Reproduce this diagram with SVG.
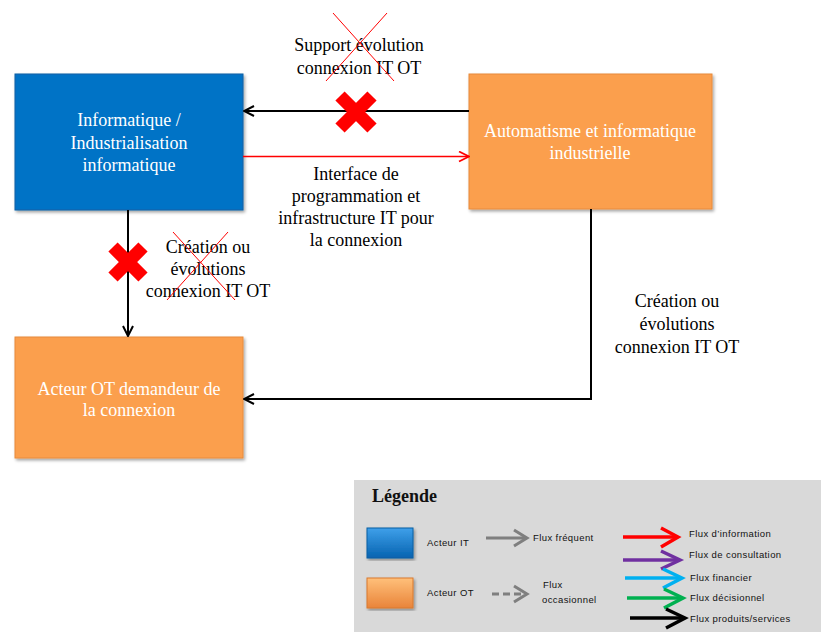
<svg xmlns="http://www.w3.org/2000/svg" width="821" height="632" viewBox="0 0 821 632">
<style>
.lbl{font-family:"Liberation Serif","Times New Roman",serif;font-size:18px;fill:#000;text-anchor:middle}
.nt{font-family:"Liberation Serif","Times New Roman",serif;font-size:18px;fill:#fff;text-anchor:middle}
.lg{font-family:"Liberation Sans",Arial,sans-serif;font-size:9.5px;fill:#111;letter-spacing:0.4px}
.blue{fill:#0673c6;stroke:#0a5ea3;stroke-width:1}
.orange{fill:#fb9f4e;stroke:#e88a3a;stroke-width:1}
.bk{stroke:#000;stroke-width:2;fill:none}
.thin{stroke:#ff0000;stroke-width:1;fill:none}
.bigx{stroke:#ff0000;stroke-width:13;stroke-linecap:butt}
</style>
<defs>
<marker id="ar" viewBox="0 0 12 12" refX="11" refY="6" markerWidth="12" markerHeight="12" markerUnits="userSpaceOnUse" orient="auto">
<path d="M1,1 L11,6 L1,11" fill="none" stroke="#ff0000" stroke-width="1.8"/>
</marker>
<marker id="ad" viewBox="0 0 12 12" refX="11" refY="6" markerWidth="12" markerHeight="12" markerUnits="userSpaceOnUse" orient="auto">
<path d="M1,1 L11,6 L1,11" fill="none" stroke="#000" stroke-width="2"/>
</marker>
<filter id="sh" x="-5%" y="-5%" width="115%" height="115%">
<feDropShadow dx="1.5" dy="2" stdDeviation="1.5" flood-color="#000" flood-opacity="0.35"/>
</filter>
<linearGradient id="lgb" x1="0" y1="0" x2="0" y2="1"><stop offset="0" stop-color="#3fa0ea"/><stop offset="1" stop-color="#0663b0"/></linearGradient>
<linearGradient id="lgo" x1="0" y1="0" x2="0" y2="1"><stop offset="0" stop-color="#ffc07a"/><stop offset="1" stop-color="#e9843a"/></linearGradient>
</defs>
<rect width="821" height="632" fill="#fff"/>

<g id="node-it">
<rect x="15" y="74" width="228" height="136" class="blue" filter="url(#sh)"/>
<text class="nt" x="129" y="126">Informatique /</text>
<text class="nt" x="129" y="149">Industrialisation</text>
<text class="nt" x="129" y="171">informatique</text>
</g>

<g id="node-automatisme">
<rect x="469" y="74" width="243" height="135" class="orange" filter="url(#sh)"/>
<text class="nt" x="590" y="137">Automatisme et informatique</text>
<text class="nt" x="590" y="159">industrielle</text>
</g>

<g id="node-acteur-ot">
<rect x="15" y="337" width="228" height="121" class="orange" filter="url(#sh)"/>
<text class="nt" x="129" y="395">Acteur OT demandeur de</text>
<text class="nt" x="129" y="416">la connexion</text>
</g>

<g id="connectors">
<line x1="469" y1="111" x2="244" y2="111" class="bk" marker-end="url(#ad)"/>
<line x1="243" y1="156.5" x2="469" y2="156.5" stroke="#ff0000" stroke-width="1.5" marker-end="url(#ar)"/>
<line x1="128" y1="210" x2="128" y2="336" class="bk" marker-end="url(#ad)"/>
<polyline points="591,209 591,399 244,399" class="bk" marker-end="url(#ad)"/>
</g>

<g id="label-support">
<text class="lbl" x="359" y="51">Support évolution</text>
<text class="lbl" x="359" y="74">connexion IT OT</text>
<line x1="333" y1="13" x2="394" y2="81" class="thin"/>
<line x1="387" y1="13" x2="326" y2="81" class="thin"/>
<g class="bigx"><line x1="340" y1="96" x2="372" y2="128"/><line x1="372" y1="96" x2="340" y2="128"/></g>
</g>

<g id="label-interface">
<text class="lbl" x="356" y="180">Interface de</text>
<text class="lbl" x="356" y="202">programmation et</text>
<text class="lbl" x="356" y="224">infrastructure IT pour</text>
<text class="lbl" x="356" y="246">la connexion</text>
</g>

<g id="label-creation-left">
<text class="lbl" x="208" y="253">Création ou</text>
<text class="lbl" x="208" y="275">évolutions</text>
<text class="lbl" x="208" y="297">connexion IT OT</text>
<line x1="173" y1="232" x2="235" y2="300" class="thin"/>
<line x1="228" y1="232" x2="167" y2="300" class="thin"/>
<g class="bigx"><line x1="113" y1="247" x2="143" y2="277"/><line x1="143" y1="247" x2="113" y2="277"/></g>
</g>

<g id="label-creation-right">
<text class="lbl" x="677" y="307">Création ou</text>
<text class="lbl" x="677" y="330">évolutions</text>
<text class="lbl" x="677" y="353">connexion IT OT</text>
</g>

<g id="legend">
<rect x="354" y="480" width="467" height="152" fill="#d9d9d9"/>
<text x="372" y="502" font-family="Liberation Serif,serif" font-size="18" font-weight="bold" fill="#111">Légende</text>
<rect x="367" y="528" width="46" height="30" fill="url(#lgb)" stroke="#0a5ea3" filter="url(#sh)"/>
<rect x="367" y="578" width="46" height="30" fill="url(#lgo)" stroke="#d9782e" filter="url(#sh)"/>
<text class="lg" x="427" y="546">Acteur IT</text>
<text class="lg" x="427" y="596">Acteur OT</text>
<line x1="486" y1="538" x2="526" y2="538" stroke="#7f7f7f" stroke-width="3"/>
<path d="M514,530 L527,538 L514,546" fill="none" stroke="#7f7f7f" stroke-width="3"/>
<text class="lg" x="533" y="541">Flux fréquent</text>
<line x1="492" y1="594" x2="526" y2="594" stroke="#7f7f7f" stroke-width="3" stroke-dasharray="7,4"/>
<path d="M514,586 L527,594 L514,602" fill="none" stroke="#7f7f7f" stroke-width="3"/>
<text class="lg" x="543" y="588">Flux</text>
<text class="lg" x="542" y="603">occasionnel</text>
<g stroke-width="3.5" fill="none">
<line x1="623" y1="537" x2="676" y2="537" stroke="#ff0000"/>
<path d="M661,528 L678,537 L661,547" stroke="#ff0000"/>
<line x1="623" y1="560" x2="678" y2="560" stroke="#7030a0"/>
<path d="M661,551 L680,560 L661,569" stroke="#7030a0"/>
<line x1="625" y1="578" x2="680" y2="578" stroke="#00b0f0"/>
<path d="M663,569 L682,578 L663,588" stroke="#00b0f0"/>
<line x1="627" y1="598" x2="681" y2="598" stroke="#00b050"/>
<path d="M664,589 L683,598 L664,608" stroke="#00b050"/>
<line x1="630" y1="618" x2="683" y2="618" stroke="#000"/>
<path d="M666,609 L685,618 L666,628" stroke="#000"/>
</g>
<text class="lg" x="689" y="537">Flux d’information</text>
<text class="lg" x="689" y="558">Flux de consultation</text>
<text class="lg" x="690" y="581">Flux financier</text>
<text class="lg" x="690" y="601">Flux décisionnel</text>
<text class="lg" x="690" y="622">Flux produits/services</text>
</g>
</svg>
